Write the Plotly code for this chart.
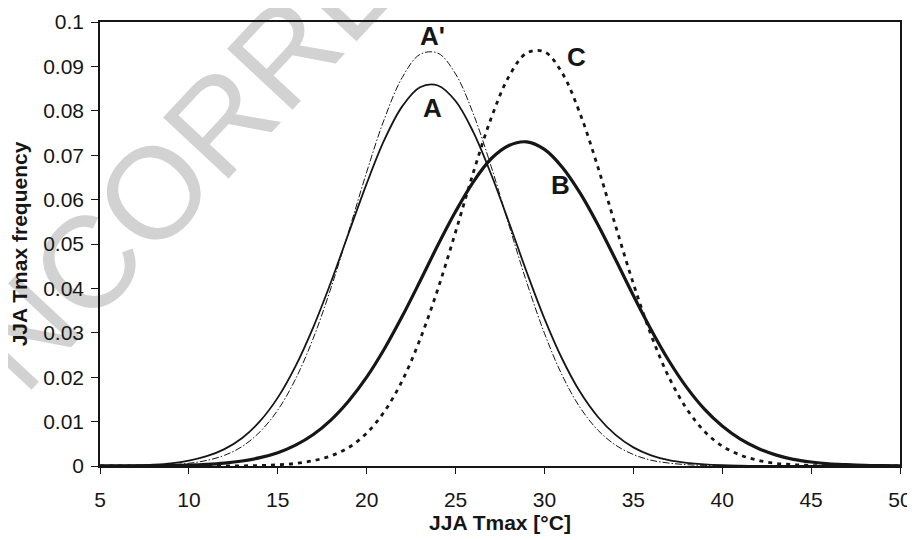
import plotly.graph_objects as go

# Temperature axis (°C)
temps = list(range(5, 51))

# Curve A (solid thin)
freq_A = [0.00003, 0.00006, 0.00014, 0.0003, 0.0006, 0.0012, 0.0022, 0.0038, 0.0063, 0.0101,
          0.0154, 0.0225, 0.0313, 0.0415, 0.0526, 0.0636, 0.0735, 0.0810, 0.0853, 0.0857,
          0.0822, 0.0752, 0.0657, 0.0549, 0.0437, 0.0332, 0.0241, 0.0167, 0.0111, 0.0070,
          0.0042, 0.0024, 0.0013, 0.0007, 0.00035, 0.00017, 0.00008, 0.00003, 0.00001, 0.0,
          0.0, 0.0, 0.0, 0.0, 0.0, 0.0]

# Curve A' (dash-dot thin)
freq_Ap = [0.00001, 0.00002, 0.00005, 0.00012, 0.00028, 0.00061, 0.00125, 0.0024, 0.0044, 0.0077,
           0.0126, 0.0196, 0.0288, 0.0402, 0.0530, 0.0662, 0.0782, 0.0875, 0.0927, 0.0930,
           0.0883, 0.0793, 0.0675, 0.0543, 0.0414, 0.0299, 0.0204, 0.0132, 0.0081, 0.0047,
           0.0026, 0.0013, 0.00066, 0.0003, 0.00013, 0.00006, 0.00002, 0.0, 0.0, 0.0,
           0.0, 0.0, 0.0, 0.0, 0.0, 0.0]

# Curve B (thick solid)
freq_B = [0.000006, 0.000012, 0.000026, 0.000053, 0.000104, 0.0002, 0.00037, 0.00065, 0.00113, 0.00188,
          0.0030, 0.0047, 0.0071, 0.0104, 0.0147, 0.0200, 0.0264, 0.0337, 0.0416, 0.0497,
          0.0573, 0.0640, 0.0692, 0.0722, 0.0730, 0.0713, 0.0673, 0.0615, 0.0544, 0.0465,
          0.0384, 0.0307, 0.0237, 0.0177, 0.0128, 0.0090, 0.0061, 0.0040, 0.0025, 0.0015,
          0.0009, 0.0005, 0.0003, 0.00015, 0.00008, 0.00004]

# Curve C (thick dotted)
freq_C = [0.0, 0.0, 0.0, 0.0, 0.0, 0.000002, 0.000007, 0.000018, 0.000046, 0.00011,
          0.00026, 0.00057, 0.0012, 0.0023, 0.0042, 0.0074, 0.0123, 0.0192, 0.0285, 0.0398,
          0.0527, 0.0661, 0.0783, 0.0877, 0.0930, 0.0933, 0.0885, 0.0794, 0.0674, 0.0541,
          0.0411, 0.0295, 0.0200, 0.0129, 0.0078, 0.0045, 0.0025, 0.0013, 0.0006, 0.0003,
          0.00012, 0.00005, 0.00002, 0.00001, 0.0, 0.0]

# Curve labels
label_text = ["A'", "A", "C", "B"]
label_x = [23.7, 23.7, 31.8, 30.9]
label_y = [0.0962, 0.0800, 0.0916, 0.0628]

x_ticks = [5, 10, 15, 20, 25, 30, 35, 40, 45, 50]
y_ticks = [0, 0.01, 0.02, 0.03, 0.04, 0.05, 0.06, 0.07, 0.08, 0.09, 0.1]
y_ticktext = ["0", "0.01", "0.02", "0.03", "0.04", "0.05", "0.06", "0.07", "0.08", "0.09", "0.1"]

INK = "#161616"
FONT = "Liberation Sans, Arial, sans-serif"

fig = go.Figure()
fig.add_trace(go.Scatter(x=temps, y=freq_C, mode="lines", line=dict(color=INK, width=2.8, dash="4px,5px", shape="spline"), name="C"))
fig.add_trace(go.Scatter(x=temps, y=freq_B, mode="lines", line=dict(color=INK, width=3.2, shape="spline"), name="B"))
fig.add_trace(go.Scatter(x=temps, y=freq_Ap, mode="lines", line=dict(color=INK, width=1, dash="7px,2px,1.5px,2px", shape="spline"), name="A'"))
fig.add_trace(go.Scatter(x=temps, y=freq_A, mode="lines", line=dict(color=INK, width=1.8, shape="spline"), name="A"))

fig.add_trace(go.Scatter(x=label_x, y=label_y, mode="text", text=label_text,
                         textfont=dict(family=FONT, size=26, color=INK),
                         texttemplate="<b>%{text}</b>", hoverinfo="skip"))

# Watermark behind everything
fig.add_shape(type="rect", xref="paper", yref="paper", x0=0.184, x1=0.224, y0=0.90, y1=0.94,
              line=dict(width=0), fillcolor="rgba(0,0,0,0)", layer="below",
              label=dict(text="UNCORRECTED", textangle=-47, textposition="middle center",
                         font=dict(family=FONT, size=130, color="#d2d2d2")))

# The page body has an 8px margin, so the figure is 8px smaller on each axis
fig.update_layout(
    width=907, height=532,
    margin=dict(l=92, r=15, t=14, b=74),
    paper_bgcolor="white", plot_bgcolor="rgba(0,0,0,0)",
    showlegend=False,
    font=dict(family=FONT, color=INK),
)
fig.update_xaxes(range=[5, 50], tickvals=x_ticks, ticks="outside", ticklen=6, tickwidth=1.2,
                 tickcolor=INK, showline=True, linewidth=1.6, linecolor=INK, mirror=True,
                 showgrid=False, zeroline=False, tickfont=dict(size=21, color=INK),
                 ticklabelstandoff=8, automargin=False,
                 title=dict(text="<b>JJA Tmax [°C]</b>", font=dict(size=21, color=INK), standoff=4))
fig.update_yaxes(range=[0, 0.1], tickvals=y_ticks, ticktext=y_ticktext, ticks="outside", ticklen=7,
                 tickwidth=1.2, tickcolor=INK, showline=True, linewidth=1.6, linecolor=INK, mirror=True,
                 showgrid=False, zeroline=False, tickfont=dict(size=21, color=INK),
                 ticklabelstandoff=3, automargin=False,
                 title=dict(text="<b>JJA Tmax frequency</b>", font=dict(size=21, color=INK), standoff=16))

fig.write_html("out.html")
